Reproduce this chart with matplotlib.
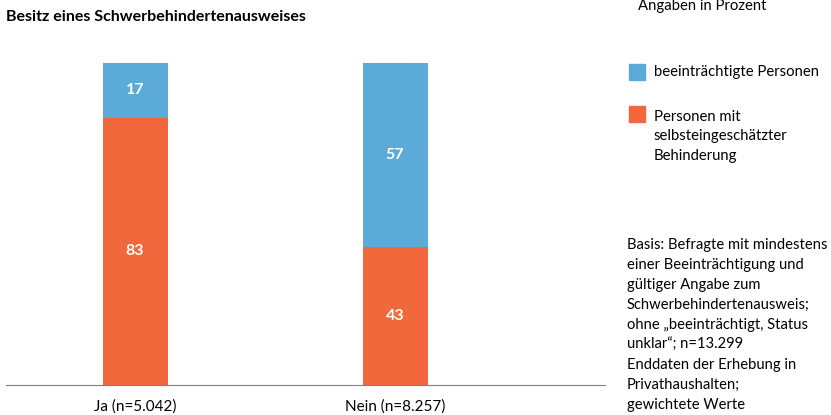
import matplotlib
matplotlib.use("Agg")
import matplotlib.pyplot as plt
import numpy as np

plt.rcParams['font.family'] = ['Lato', 'DejaVu Sans']

categories = ["Ja (n=5.042)", "Nein (n=8.257)"]
selbst = [83, 43]        # Personen mit selbsteingeschätzter Behinderung
beeintr = [17, 57]       # beeinträchtigte Personen
blue = "#5BAAD7"
orange = "#F2683D"

W, H = 831, 415
fig = plt.figure(figsize=(W / 100, H / 100), dpi=100)

def px(x, y):
    return x / W, 1 - y / H

# axes: left 6px, right 605px, bottom 385px, top 63px
ax = fig.add_axes([6 / W, 1 - 385 / H, (605 - 6) / W, (385 - 63) / H])
x = np.arange(len(categories))
ax.bar(x + 0.004, selbst, width=0.25, color=orange)
ax.bar(x + 0.004, beeintr, width=0.25, bottom=selbst, color=blue)
for i in range(len(categories)):
    ax.text(x[i], selbst[i] / 2, str(selbst[i]), ha='center', va='center',
            color='white', fontsize=11.5, fontweight='bold')
    ax.text(x[i], selbst[i] + beeintr[i] / 2, str(beeintr[i]), ha='center', va='center',
            color='white', fontsize=11.5, fontweight='bold')

ax.set_xlim(-0.496, 1.808)
ax.set_ylim(0, 100)
for s in ['top', 'right', 'left']:
    ax.spines[s].set_visible(False)
ax.spines['bottom'].set_color('#808080')
ax.set_yticks([])
ax.set_xticks(x)
ax.set_xticklabels(categories, fontsize=11)
ax.tick_params(axis='x', length=0, pad=10)

fig.text(*px(6, 17), "Besitz eines Schwerbehindertenausweises", fontsize=11.5,
         fontweight='bold', va='center', ha='left')
fig.text(*px(638, 6), "Angaben in Prozent", fontsize=10.7, va='center', ha='left')

# legend
fig.patches.append(plt.Rectangle(px(629, 80), 16 / W, 16 / H, color=blue,
                                 transform=fig.transFigure, figure=fig))
fig.text(*px(654, 72), "beeinträchtigte Personen", fontsize=10.7, va='center', ha='left')
fig.patches.append(plt.Rectangle(px(629, 122), 16 / W, 16 / H, color=orange,
                                 transform=fig.transFigure, figure=fig))
fig.text(*px(654, 110), "Personen mit\nselbsteingeschätzter\nBehinderung", fontsize=10.7,
         va='top', ha='left', linespacing=1.49)

fig.text(*px(627, 238), "Basis: Befragte mit mindestens\neiner Beeinträchtigung und\n"
         "gültiger Angabe zum\nSchwerbehindertenausweis;\nohne „beeinträchtigt, Status\n"
         "unklar“; n=13.299\nEnddaten der Erhebung in\nPrivathaushalten;\ngewichtete Werte",
         fontsize=10.6, va='top', ha='left', linespacing=1.54)

fig.savefig("out.png", dpi=100)
